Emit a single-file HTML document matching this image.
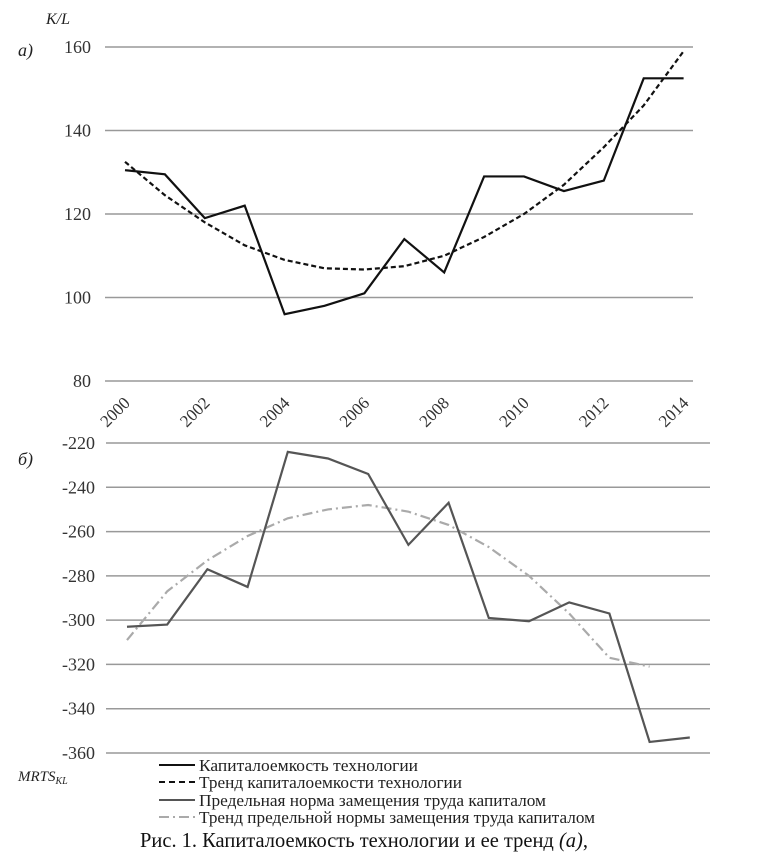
<!DOCTYPE html>
<html><head><meta charset="utf-8"><style>
body{margin:0;background:#fff;}
svg{display:block;font-family:"Liberation Serif",serif;}
</style></head><body>
<svg width="760" height="853">
<g id="topPanel"></g><g id="botPanel"></g>
<text x="46" y="24" font-style="italic" font-size="16" fill="#222">K/L</text>
<text x="18" y="56" font-style="italic" font-size="18" fill="#222">а)</text>
<text x="18" y="465" font-style="italic" font-size="18" fill="#222">б)</text>
<text x="18" y="781" font-style="italic" font-size="15" fill="#222">MRTS<tspan font-size="10" dy="3">KL</tspan></text>
<g font-size="17" fill="#222">
<line x1="159" y1="765" x2="195" y2="765" stroke="#111" stroke-width="2"/>
<text x="199" y="771" textLength="219" lengthAdjust="spacingAndGlyphs">Капиталоемкость технологии</text>
<line x1="159" y1="782" x2="195" y2="782" stroke="#111" stroke-width="2" stroke-dasharray="6,4"/>
<text x="199" y="788" textLength="263" lengthAdjust="spacingAndGlyphs">Тренд капиталоемкости технологии</text>
<line x1="159" y1="800" x2="195" y2="800" stroke="#555" stroke-width="2"/>
<text x="199" y="806" textLength="347" lengthAdjust="spacingAndGlyphs">Предельная норма замещения труда капиталом</text>
<line x1="159" y1="817" x2="195" y2="817" stroke="#aaa" stroke-width="2" stroke-dasharray="10,4,2,4"/>
<text x="199" y="823" textLength="396" lengthAdjust="spacingAndGlyphs">Тренд предельной нормы замещения труда капиталом</text>
</g>
<text x="140" y="847" textLength="448" lengthAdjust="spacingAndGlyphs" font-size="21" fill="#111">Рис. 1. Капиталоемкость технологии и ее тренд <tspan font-style="italic">(а)</tspan>,</text>
</svg>
<script>
const years=[2000,2001,2002,2003,2004,2005,2006,2007,2008,2009,2010,2011,2012,2013,2014];
const capital=[130.5,129.5,119,122,96,98,101,114,106,129,129,125.5,128,152.5,152.5];
const capitalTrend=[132.5,124.5,118,112.5,109,107,106.7,107.5,110,114.5,120,127,136,146,159];
const topTicks=[80,100,120,140,160];
const mrts=[-303,-302,-277,-285,-224,-227,-234,-266,-247,-299,-300.5,-292,-297,-355,-353];
const mrtsTrend=[-309,-287,-273,-262,-254,-250,-248,-251,-257,-267,-280,-297,-317,-321];
const botTicks=[-360,-340,-320,-300,-280,-260,-240,-220];
const NS="http://www.w3.org/2000/svg";
function mk(p,t,a){const e=document.createElementNS(NS,t);for(const k in a)e.setAttribute(k,a[k]);p.appendChild(e);return e;}
const gTop=document.getElementById('topPanel'),gBot=document.getElementById('botPanel');
const tx=i=>125+i*39.9, ty=v=>381-(v-80)*(334/80);
const bx=i=>127+i*40.2, by=v=>443-(v+220)*(310/140);
topTicks.forEach(v=>{
 const l=mk(gTop,'line',{x1:105,x2:693,y1:ty(v),y2:ty(v),stroke:'#999','stroke-width':1.5});
 
 
 const t=mk(gTop,'text',{x:91,y:ty(v)+6,'text-anchor':'end','font-size':18,fill:'#333'});t.textContent=v;
 
 
});
years.forEach((y,i)=>{if(i%2)return;
 const x=tx(i)+6,t=mk(gTop,'text',{x:x,y:404,'text-anchor':'end','font-size':17,fill:'#333',transform:`rotate(-45 ${x} 404)`});t.textContent=y;
 
 
});
let p=mk(gTop,'polyline',{points:capital.map((v,i)=>tx(i)+','+ty(v)).join(' '),fill:'none',stroke:'#111','stroke-width':2.2});


p=mk(gTop,'polyline',{points:capitalTrend.map((v,i)=>tx(i)+','+ty(v)).join(' '),fill:'none',stroke:'#111','stroke-width':2.2,'stroke-dasharray':'5,3'});


botTicks.forEach(v=>{
 const l=mk(gBot,'line',{x1:106,x2:710,y1:by(v),y2:by(v),stroke:'#999','stroke-width':1.5});
 
 
 const t=mk(gBot,'text',{x:95,y:by(v)+6,'text-anchor':'end','font-size':18,fill:'#333'});t.textContent=v;
 
 
});
p=mk(gBot,'polyline',{points:mrtsTrend.map((v,i)=>bx(i)+','+by(v)).join(' '),fill:'none',stroke:'#aaa','stroke-width':2.2,'stroke-dasharray':'10,4,2,4'});


p=mk(gBot,'polyline',{points:mrts.map((v,i)=>bx(i)+','+by(v)).join(' '),fill:'none',stroke:'#555','stroke-width':2.2});


</script>
</body></html>
